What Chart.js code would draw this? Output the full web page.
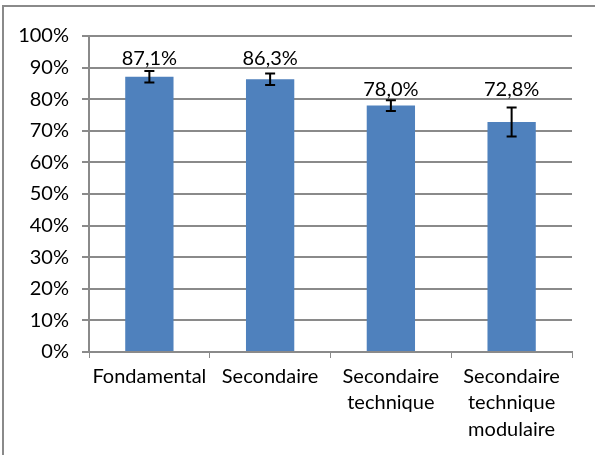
<!DOCTYPE html>
<html>
<head>
<meta charset="utf-8">
<script src="https://cdn.jsdelivr.net/npm/chart.js@4/dist/chart.umd.min.js"></script>
<style>
  html, body { margin: 0; padding: 0; background: #fff; }
  #wrap { position: relative; width: 595px; height: 455px; overflow: hidden; }
  #frame { position: absolute; left: 2px; top: 5px; width: 700px; height: 600px;
           border-left: 2px solid #8a8a8a; border-top: 2px solid #8a8a8a; }
  canvas { position: absolute; left: 0; top: 0; }
</style>
</head>
<body>
<div id="wrap">
  <div id="frame"></div>
  <canvas id="typeChart" width="595" height="455"></canvas>
</div>
<script>
// chart data
const categories = ['Fondamental', 'Secondaire', ['Secondaire', 'technique'], ['Secondaire', 'technique', 'modulaire']];
const rates = [87.1, 86.3, 78.0, 72.8];   // %
const errors = [1.8, 1.8, 1.7, 4.6];      // +/- %
const labelAt = [93, 93, 83, 83];         // where Excel left the value labels

const fontFamily = 'Lato, "Open Sans", sans-serif';

// error bars + value labels
const extras = {
  id: 'extras',
  afterDatasetsDraw(chart) {
    const ctx = chart.ctx;
    const meta = chart.getDatasetMeta(0);
    const y = chart.scales.y;
    ctx.save();
    ctx.strokeStyle = '#000';
    ctx.lineWidth = 2;
    meta.data.forEach((bar, i) => {
      const top = y.getPixelForValue(rates[i] + errors[i]);
      const bot = y.getPixelForValue(rates[i] - errors[i]);
      ctx.beginPath();
      ctx.moveTo(bar.x, top); ctx.lineTo(bar.x, bot);
      ctx.moveTo(bar.x - 5, top); ctx.lineTo(bar.x + 5, top);
      ctx.moveTo(bar.x - 5, bot); ctx.lineTo(bar.x + 5, bot);
      ctx.stroke();
    });
    ctx.fillStyle = '#000';
    ctx.font = '20px ' + fontFamily;
    ctx.textAlign = 'center';
    ctx.textBaseline = 'middle';
    meta.data.forEach((bar, i) => {
      const txt = rates[i].toFixed(1).replace('.', ',') + '%';
      ctx.fillText(txt, bar.x, y.getPixelForValue(labelAt[i]));
    });
    ctx.restore();
  }
};

const ctx = document.getElementById('typeChart').getContext('2d');

new Chart(ctx, {
  type: 'bar',
  data: {
    labels: categories,
    datasets: [{
      data: rates,
      backgroundColor: '#4f81bd',
      borderWidth: 0,
      categoryPercentage: 1,
      barPercentage: 0.4
    }]
  },
  options: {
    responsive: false,
    animation: false,
    layout: { padding: { left: 0, top: 36, right: 23, bottom: 0 } },
    plugins: {
      legend: { display: false },
      tooltip: { enabled: false }
    },
    scales: {
      x: {
        grid: { drawOnChartArea: false, color: '#8a8a8a', tickLength: 6, offset: true },
        border: { color: '#8a8a8a', width: 2 },
        ticks: {
          color: '#000',
          padding: 5,
          maxRotation: 0,
          font: { family: fontFamily, size: 20, lineHeight: 1.33 }
        },
        afterFit(scale) { scale.height = 103; }
      },
      y: {
        min: 0,
        max: 100,
        grid: { color: '#8a8a8a', lineWidth: 2, tickLength: 7 },
        border: { color: '#8a8a8a', width: 2 },
        ticks: {
          stepSize: 10,
          color: '#000',
          padding: 13,
          font: { family: fontFamily, size: 20 },
          callback: v => v + '%'
        },
        afterFit(scale) { scale.width = 89; }
      }
    }
  },
  plugins: [extras]
});
</script>
</body>
</html>
